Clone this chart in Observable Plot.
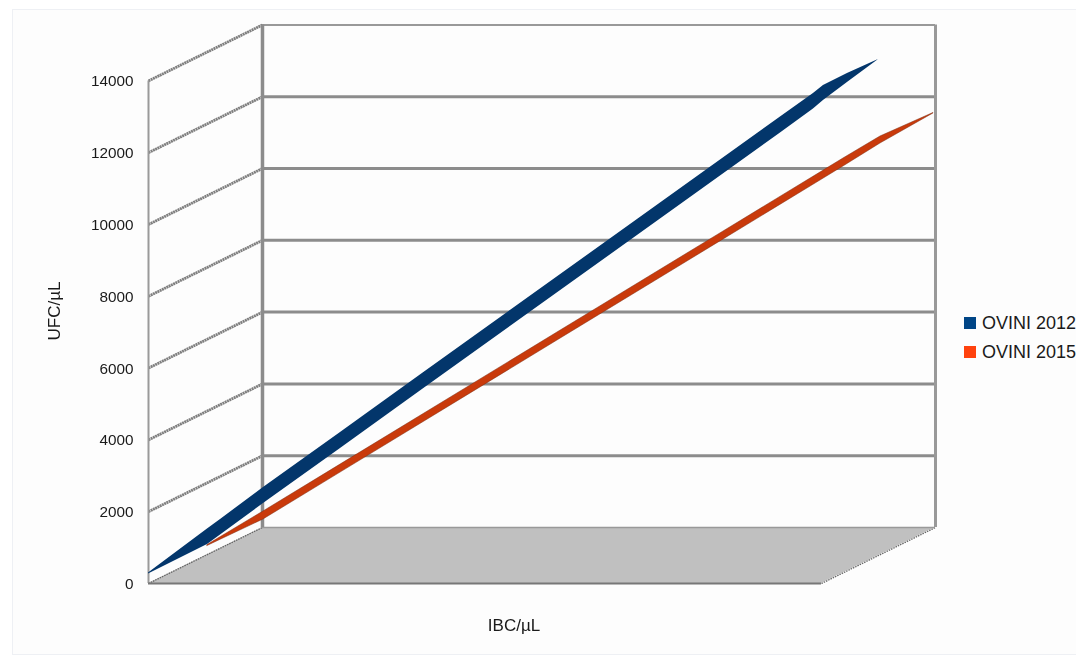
<!DOCTYPE html>
<html>
<head>
<meta charset="utf-8">
<script src="https://cdn.jsdelivr.net/npm/d3@7"></script>
<script src="https://cdn.jsdelivr.net/npm/@observablehq/plot@0.6"></script>
<style>
html,body{margin:0;padding:0;background:#fff;overflow:hidden;width:1076px;height:660px;font-family:"Liberation Sans",sans-serif}
#panel{position:absolute;left:12px;top:9px;width:1064px;height:646px;background:#fdfdfd;box-sizing:border-box;border:1px solid #eef0f4;border-right:0}
#chart{position:absolute;left:0;top:0}
#chart svg{filter:blur(.45px)}
#legend{position:absolute;left:964px;top:309px;color:#1a1a1a;font-size:18px;line-height:28.5px;white-space:nowrap}
#legend div{display:flex;align-items:center;height:28.5px}
#legend span{display:inline-block;width:12px;height:12px;margin-right:6px}
</style>
</head>
<body>
<div id="panel"></div>
<div id="chart"></div>
<div id="legend"></div>
<script>
const yTicks = [0, 2000, 4000, 6000, 8000, 10000, 12000, 14000];
const xFrontMax = 14000, depthX = 2371, depthY = 1560;
const xMax = xFrontMax + depthX, yMax = 15571;

const seriesNames = ["OVINI 2012", "OVINI 2015"];
const legendColors = ["#004586", "#ff420e"];
const ribbonColors = ["#03366b", "#c93a0b"];

const x2012 = [0, 1227, 1498, 2392, 3994, 5720, 10650, 13146, 13832, 14040, 14539, 15173];
const top2012 = [292, 1515, 1783, 2674, 4206, 5869, 10599, 12994, 13649, 13872, 14206, 14588];
const bottom2012 = [265, 1086, 1351, 2228, 3760, 5423, 10153, 12548, 13217, 13454, 13955, 14582];

const x2015 = [1227, 2392, 3994, 6760, 8507, 11835, 13083, 13832, 14456, 15226, 16328];
const top2015 = [1072, 2006, 3312, 5565, 6992, 9702, 10719, 11329, 11838, 12451, 13106];
const bottom2015 = [1045, 1783, 3089, 5343, 6769, 9479, 10496, 11106, 11616, 12256, 13092];

const floorX = [0, depthX, xFrontMax, xMax];
const floorBack = [0, depthY, depthY, depthY];
const floorFront = [0, 0, 0, depthY];

const grey = "#8c8c8c";
const idx = a => a.map((_, i) => i);

const plot = Plot.plot({
  width: 1076, height: 660,
  marginLeft: 148, marginRight: 141, marginTop: 24, marginBottom: 77,
  style: {background: "transparent", fontFamily: "'Liberation Sans', sans-serif", color: "#1a1a1a"},
  x: {domain: [0, xMax], axis: null},
  y: {domain: [0, yMax], axis: null},
  marks: [
    // floor
    Plot.areaY(idx(floorX), {x: i => floorX[i], y1: i => floorFront[i], y2: i => floorBack[i], fill: "#c0c0c0"}),
    // side wall grid lines
    Plot.link(yTicks.slice(1), {x1: 0, y1: d => d, x2: depthX, y2: d => d + depthY, stroke: "#7f7f7f", strokeWidth: 2.8, strokeDasharray: "2 0.5"}),
    Plot.link([0], {x1: 0, y1: d => d, x2: depthX, y2: d => d + depthY, stroke: "#666", strokeWidth: 1.3, strokeDasharray: "1.5 1"}),
    Plot.link([0], {x1: xFrontMax, y1: d => d, x2: xMax, y2: d => d + depthY, stroke: "#666", strokeWidth: 1.3, strokeDasharray: "1.5 1"}),
    // back wall grid lines
    Plot.ruleY(yTicks.slice(1, -1).map(d => d + depthY), {x1: depthX, x2: xMax, stroke: grey, strokeWidth: 3}),
    Plot.ruleY([14000 + depthY], {x1: depthX, x2: xMax, stroke: "#999", strokeWidth: 2}),
    Plot.ruleY([depthY], {x1: depthX, x2: xMax, stroke: "#999", strokeWidth: 1.5}),
    // walls
    Plot.ruleX([0], {y1: 0, y2: 14000, stroke: "#9a9a9a", strokeWidth: 2}),
    Plot.ruleX([depthX], {y1: depthY, y2: 14000 + depthY, stroke: grey, strokeWidth: 3.5}),
    Plot.ruleX([xMax], {y1: depthY, y2: 14000 + depthY, stroke: "#999", strokeWidth: 3}),
    Plot.ruleY([0], {x1: 0, x2: xFrontMax, stroke: "#777", strokeWidth: 2}),
    // ribbons
    Plot.areaY(idx(x2015), {x: i => x2015[i], y1: i => bottom2015[i], y2: i => top2015[i], fill: ribbonColors[1], stroke: "#7a2a10", strokeWidth: 0.5}),
    Plot.areaY(idx(x2012), {x: i => x2012[i], y1: i => bottom2012[i], y2: i => top2012[i], fill: ribbonColors[0]}),
    // axis
    Plot.axisY(yTicks, {anchor: "left", tickSize: 0, tickPadding: 15, label: null, fontSize: 15.3, dy: 0.5, tickFormat: d => String(d)}),
    Plot.text(["UFC/µL"], {frameAnchor: "left", textAnchor: "middle", dx: -94, dy: 7, rotate: -90, fontSize: 17, fill: "#1a1a1a"}),
    Plot.text(["IBC/µL"], {frameAnchor: "bottom", dx: -28, dy: 47, fontSize: 17, fill: "#1a1a1a"})
  ]
});
document.getElementById("chart").appendChild(plot);

const legend = document.getElementById("legend");
seriesNames.forEach((name, i) => {
  const row = document.createElement("div");
  const sw = document.createElement("span");
  sw.style.background = legendColors[i];
  row.appendChild(sw);
  row.appendChild(document.createTextNode(name));
  legend.appendChild(row);
});
</script>
</body>
</html>
